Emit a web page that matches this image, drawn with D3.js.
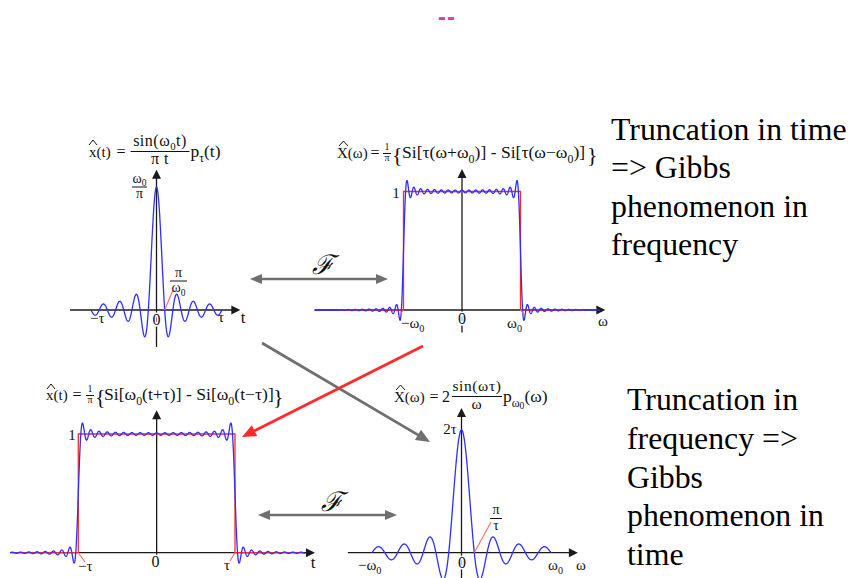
<!DOCTYPE html>
<html><head><meta charset="utf-8">
<script src="https://cdn.jsdelivr.net/npm/d3@7"></script>
<style>body{margin:0;background:#fff}svg{display:block}</style>
</head><body><svg id="c" width="853" height="578"></svg>
<script>
// ---------- data ----------
// ω0·τ/π for each panel, read from the number of ripples / lobes
const panelNames = ["x(t) sinc", "X(ω) Si", "x(t) Si", "X(ω) sinc"];
const halfCycles = [8, 17, 19, 7];
const pulseLevel = [1, 1];          // level of the ideal rectangular pulses
const sincPeak = [1, 1];            // ω0/π and 2τ, normalised
const tickTextTL = ["−τ", "0", "τ", "t"];
const tickTextTR = ["−ω", "0", "ω", "ω"];
const tickTextBL = ["−τ", "0", "τ", "t"];
const tickTextBR = ["−ω", "0", "ω", "ω"];
const noteTop = ["Truncation in time", "=> Gibbs", "phenomenon in", "frequency"];
const noteBottom = ["Truncation in", "frequency =>", "Gibbs", "phenomenon in", "time"];

// ---------- helpers ----------
const svg = d3.select("#c");
const SERIF = "Liberation Serif, Times New Roman, serif";
const BLUE = "#2f2fff", RED = "#ff2a2a", PINK = "#ff6a6a", AX = "#1a1a1a", GRAY = "#6f6f6f";

function Si(x) {
  if (x === 0) return 0;
  const s = Math.sign(x); x = Math.abs(x);
  const n = Math.max(2, 2 * Math.ceil(x / 0.2));
  const h = x / n;
  let sum = 1 + Math.sin(x) / x;
  for (let i = 1; i < n; i++) { const t = i * h; sum += (i % 2 ? 4 : 2) * Math.sin(t) / t; }
  return s * sum * h / 3;
}
const sinc = (N, w) => w === 0 ? 1 : Math.sin(N * Math.PI * w) / (N * Math.PI * w);

function arrowHead(g, x1, y1, x2, y2, len, hw, color) {
  const a = Math.atan2(y2 - y1, x2 - x1), c = Math.cos(a), s = Math.sin(a);
  const bx = x2 - len * c, by = y2 - len * s;
  g.append("path").attr("d", `M${x2},${y2}L${bx - hw * s},${by + hw * c}L${bx + hw * s},${by - hw * c}Z`).attr("fill", color);
  return [bx + 1 * c, by + 1 * s];
}
function arrow(g, x1, y1, x2, y2, color, w, len, hw, both) {
  let [ex, ey] = arrowHead(g, x1, y1, x2, y2, len, hw, color);
  let sx = x1, sy = y1;
  if (both) [sx, sy] = arrowHead(g, x2, y2, x1, y1, len, hw, color);
  g.append("line").attr("x1", sx).attr("y1", sy).attr("x2", ex).attr("y2", ey)
    .attr("stroke", color).attr("stroke-width", w);
}
// math text: parts are strings or {t, sub}
function mtext(g, x, y, parts, size, anchor) {
  const t = g.append("text").attr("x", x).attr("y", y).attr("font-family", SERIF)
    .attr("font-size", size).attr("text-anchor", anchor || "start").attr("fill", "#111");
  let cur = 0;
  const off = [0, 0.28 * size, 0.42 * size], fs = [size, 0.68 * size, 0.55 * size];
  parts.forEach(p => {
    const o = typeof p === "string" ? { t: p, sub: 0 } : p;
    const lvl = o.sub || 0;
    t.append("tspan").attr("dy", off[lvl] - off[cur]).attr("font-size", fs[lvl]).text(o.t);
    cur = lvl;
  });
  return t;
}
function frac(g, cx, yBar, num, den, size, w, up, down, ls) {
  const a = mtext(g, cx, yBar - (up || 4), num, size, "middle");
  g.append("line").attr("x1", cx - w / 2).attr("x2", cx + w / 2).attr("y1", yBar).attr("y2", yBar)
    .attr("stroke", "#111").attr("stroke-width", 1);
  const b = mtext(g, cx, yBar + (down || size * 0.75), den, size, "middle");
  if (ls) { a.attr("letter-spacing", ls); b.attr("letter-spacing", ls); }
}
function hat(g, cx, yTop, w) {
  g.append("path").attr("d", `M${cx - w / 2},${yTop + 5}L${cx},${yTop}L${cx + w / 2},${yTop + 5}`)
    .attr("fill", "none").attr("stroke", "#111").attr("stroke-width", 1);
}
function halo(sel) { return sel.attr("stroke", "#fff").attr("stroke-width", 3).attr("paint-order", "stroke"); }

// ---------- panels ----------
const P = [
  { x: d3.scaleLinear().domain([-1, 1]).range([91, 222]), y: d3.scaleLinear().domain([0, 1]).range([310, 187]),
    xAx: [-1.32, 1.28], yAx: [-0.3, 1.14] },
  { x: d3.scaleLinear().domain([-1, 1]).range([403.5, 520.5]), y: d3.scaleLinear().domain([0, 1]).range([310, 191.5]),
    xAx: [-2.52, 2.45], yAx: [-0.19, 1.19] },
  { x: d3.scaleLinear().domain([-1, 1]).range([78.3, 235]), y: d3.scaleLinear().domain([0, 1]).range([552.7, 434]),
    xAx: [-1.87, 2.02], yAx: [-0.03, 1.20] },
  { x: d3.scaleLinear().domain([-1, 1]).range([372, 551]), y: d3.scaleLinear().domain([0, 1]).range([552.7, 430]),
    xAx: [-1.27, 1.3], yAx: [-0.3, 1.18] }
];
const g = svg.append("g");

P.forEach(p => {
  arrow(g, p.x(p.xAx[0]), p.y(0), p.x(p.xAx[1]), p.y(0), AX, 1.3, 9, 4.5, false);
  arrow(g, p.x(0), p.y(p.yAx[0]), p.x(0), p.y(p.yAx[1]), AX, 1.3, 9, 4.5, false);
});

const line = p => d3.line().x(d => p.x(d[0])).y(d => p.y(d[1]));

// red ideal pulses
function pulse(p, lo, hi, lvl) {
  const pts = [[lo, 0], [-1, 0], [-1, lvl], [1, lvl], [1, 0], [hi, 0]];
  g.append("path").attr("d", line(p)(pts)).attr("fill", "none").attr("stroke", RED).attr("stroke-width", 1.3);
}
pulse(P[1], -2.1, 2.1, pulseLevel[0]);
pulse(P[2], -1.85, 1.88, pulseLevel[1]);

// blue curves
function curve(p, lo, hi, f, n) {
  const pts = d3.range(n + 1).map(i => { const w = lo + (hi - lo) * i / n; return [w, f(w)]; });
  g.append("path").attr("d", line(p)(pts)).attr("fill", "none").attr("stroke", BLUE).attr("stroke-width", 1.3);
}
curve(P[0], -1, 1, w => sincPeak[0] * sinc(halfCycles[0], w), 1200);
curve(P[1], -2.52, 2.36, w => { const N = halfCycles[1] * Math.PI; return (Si(N * (w + 1)) - Si(N * (w - 1))) / Math.PI; }, 2400);
curve(P[2], -1.87, 1.9, w => { const N = halfCycles[2] * Math.PI; return (Si(N * (w + 1)) - Si(N * (w - 1))) / Math.PI; }, 2400);
curve(P[3], -1, 1, w => sincPeak[1] * sinc(halfCycles[3], w), 1200);

// red pointer lines
function ptr(x1, y1, x2, y2) { g.append("line").attr("x1", x1).attr("y1", y1).attr("x2", x2).attr("y2", y2).attr("stroke", PINK).attr("stroke-width", 1.1); }
ptr(P[0].x(1 / halfCycles[0]), P[0].y(0), 173, 290);
ptr(P[1].x(-1), P[1].y(0), 398, 317);
ptr(P[1].x(1), P[1].y(0), 525, 315);
ptr(P[2].x(-1), P[2].y(0), 85, 562);
ptr(P[2].x(1), P[2].y(0), 230, 561);
ptr(P[3].x(1 / halfCycles[3]), P[3].y(0), 491, 522);

// ---------- labels ----------
const L = svg.append("g");
// top-left
mtext(L, 90, 323, [tickTextTL[0]], 15);
halo(mtext(L, 156.5, 325, [tickTextTL[1]], 16, "middle"));
mtext(L, 221, 322, [tickTextTL[2]], 15, "middle");
mtext(L, 243, 323, [tickTextTL[3]], 17, "middle");
frac(L, 139.5, 187, ["ω", { t: "0", sub: 1 }], ["π"], 14, 15, 4.5, 11);
frac(L, 178.5, 281, ["π"], ["ω", { t: "0", sub: 1 }], 14, 17, 4.5, 11);
// top-right
mtext(L, 396, 198, ["1"], 15, "middle");
mtext(L, 401, 328, [tickTextTR[0], { t: "0", sub: 1 }], 15);
halo(mtext(L, 462, 324, [tickTextTR[1]], 16, "middle"));
mtext(L, 507, 328, [tickTextTR[2], { t: "0", sub: 1 }], 15);
mtext(L, 603, 326, [tickTextTR[3]], 15, "middle");
// bottom-left
mtext(L, 72, 440, ["1"], 15, "middle");
mtext(L, 78, 571, [tickTextBL[0]], 15);
halo(mtext(L, 155.5, 567, [tickTextBL[1]], 16, "middle"));
mtext(L, 227, 570, [tickTextBL[2]], 15, "middle");
mtext(L, 313, 568, [tickTextBL[3]], 17, "middle");
// bottom-right
mtext(L, 450, 434, ["2τ"], 15, "middle");
frac(L, 496, 518.5, ["π"], ["τ"], 14, 12, 4.5, 11);
mtext(L, 358, 570, [tickTextBR[0], { t: "0", sub: 1 }], 15);
halo(mtext(L, 462, 568, [tickTextBR[1]], 16, "middle"));
mtext(L, 548, 570, [tickTextBR[2], { t: "0", sub: 1 }], 15);
mtext(L, 581, 570, [tickTextBR[3]], 15, "middle");

// ---------- formulas ----------
// top-left
mtext(L, 89, 157, ["x(t)"], 15); hat(L, 93, 140, 8);
mtext(L, 121, 157, ["="], 16, "middle");
frac(L, 160, 151.5, ["sin(ω", { t: "0", sub: 1 }, "t)"], ["π t"], 16, 59, 5.5, 12.8, 0.5);
mtext(L, 190.5, 157, ["p", { t: "τ", sub: 1 }, "(t)"], 17.5);
// top-right
mtext(L, 337, 158, ["X(ω)"], 15); hat(L, 343.5, 141, 9);
mtext(L, 375, 158, ["="], 16, "middle");
frac(L, 387, 153.5, ["1"], ["π"], 10, 8);
mtext(L, 392, 162, ["{"], 22);
mtext(L, 402, 158, ["Si[τ(ω+ω", { t: "0", sub: 1 }, ")] - Si[τ(ω−ω", { t: "0", sub: 1 }, ")]"], 17.6);
mtext(L, 587, 162, ["}"], 22);
// bottom-left
mtext(L, 46, 400, ["x(t)"], 15); hat(L, 51, 384, 8);
mtext(L, 77, 400, ["="], 16, "middle");
frac(L, 90, 395.5, ["1"], ["π"], 10, 8);
mtext(L, 95, 404, ["{"], 22);
mtext(L, 104, 400, ["Si[ω", { t: "0", sub: 1 }, "(t+τ)] - Si[ω", { t: "0", sub: 1 }, "(t−τ)]"], 17.6);
mtext(L, 273, 404, ["}"], 22);
// bottom-right
mtext(L, 394, 402, ["X(ω)"], 15); hat(L, 400.5, 385, 9);
mtext(L, 434, 402, ["="], 16, "middle");
mtext(L, 442, 402, ["2"], 16);
frac(L, 477, 396.5, ["sin(ωτ)"], ["ω"], 15.5, 50, 5.5, 12.3, 0.6);
mtext(L, 503, 402, ["p", { t: "ω", sub: 1 }, { t: "0", sub: 2 }, "(ω)"], 17.5);

// ---------- arrows between panels ----------
const A = svg.append("g");
arrow(A, 250, 279, 388, 279, GRAY, 2.5, 12, 5, true);
arrow(A, 258, 515, 397, 515, GRAY, 2.5, 12, 5, true);
arrow(A, 262, 343, 430, 442, GRAY, 2.8, 14, 6, false);
arrow(A, 423, 346, 242, 437, RED, 2.8, 14, 6, false);
A.append("text").attr("x", 323).attr("y", 274).attr("text-anchor", "middle").attr("font-family", "DejaVu Serif")
  .attr("font-style", "italic").attr("font-size", 27).attr("fill", "#111").text("ℱ");
A.append("text").attr("x", 332).attr("y", 511).attr("text-anchor", "middle").attr("font-family", "DejaVu Serif")
  .attr("font-style", "italic").attr("font-size", 27).attr("fill", "#111").text("ℱ");

// ---------- slide texts ----------
svg.append("text").attr("x", 447).attr("y", 25).attr("text-anchor", "middle").attr("font-family", "Liberation Sans")
  .attr("font-weight", "bold").attr("font-size", 24).attr("letter-spacing", 1).attr("fill", "#d43fa6").text("--");
noteTop.forEach((s, i) => svg.append("text").attr("x", 611).attr("y", 140 + i * 38.3).attr("font-family", SERIF)
  .attr("font-size", 31.8).attr("fill", "#000").text(s));
noteBottom.forEach((s, i) => svg.append("text").attr("x", 627).attr("y", 410 + i * 38.8).attr("font-family", SERIF)
  .attr("font-size", 31.8).attr("fill", "#000").text(s));
</script></body></html>
